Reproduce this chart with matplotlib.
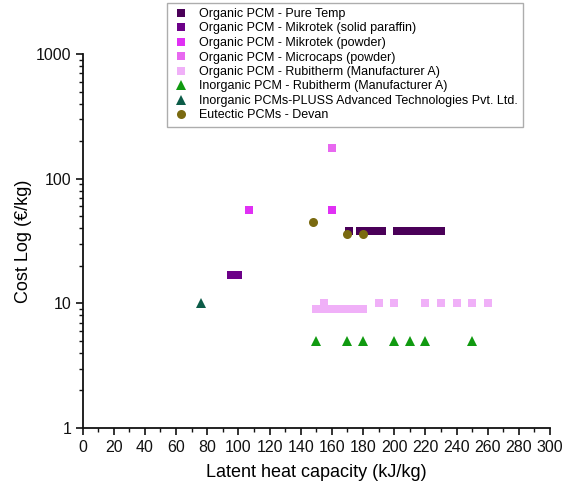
import matplotlib
matplotlib.use("Agg")
import matplotlib.pyplot as plt
from matplotlib.ticker import LogLocator, FixedLocator, NullFormatter, FuncFormatter, MultipleLocator

plt.rcParams['font.family'] = ['Liberation Sans', 'DejaVu Sans']

# Data
puretemp_x = [171, 178, 182, 186, 190, 192, 202, 205, 210, 215, 220, 225, 230]
puretemp_y = [38] * len(puretemp_x)
mik_solid_x = [95, 100]
mik_solid_y = [17, 17]
mik_powder_x = [107, 160]
mik_powder_y = [56, 56]
microcaps_x = [160]
microcaps_y = [175]
rubi_org_x = [150, 155, 160, 165, 170, 175, 180, 155, 190, 200, 220, 230, 240, 250, 260]
rubi_org_y = [9, 9, 9, 9, 9, 9, 9, 10, 10, 10, 10, 10, 10, 10, 10]
rubi_inorg_x = [150, 170, 180, 200, 210, 220, 250]
rubi_inorg_y = [5] * len(rubi_inorg_x)
pluss_x = [76]
pluss_y = [10]
devan_x = [148, 170, 180]
devan_y = [45, 36, 36]

xticks = list(range(0, 301, 20))

fig = plt.figure(figsize=(5.63, 4.88), dpi=100)
ax = fig.add_axes([82.5/563, 1-428/488, (550-82.5)/563, (428-54)/488])

ms_sq = 6
series = [
    (puretemp_x, puretemp_y, 's', '#4a0058', ms_sq, 'Organic PCM - Pure Temp'),
    (mik_solid_x, mik_solid_y, 's', '#6c0088', ms_sq, 'Organic PCM - Mikrotek (solid paraffin)'),
    (mik_powder_x, mik_powder_y, 's', '#e030f4', ms_sq, 'Organic PCM - Mikrotek (powder)'),
    (microcaps_x, microcaps_y, 's', '#e868f0', ms_sq, 'Organic PCM - Microcaps (powder)'),
    (rubi_org_x, rubi_org_y, 's', '#f0b0f8', ms_sq, 'Organic PCM - Rubitherm (Manufacturer A)'),
    (rubi_inorg_x, rubi_inorg_y, '^', '#109a10', 7.5, 'Inorganic PCM - Rubitherm (Manufacturer A)'),
    (pluss_x, pluss_y, '^', '#0c5c48', 7.5, 'Inorganic PCMs-PLUSS Advanced Technologies Pvt. Ltd.'),
    (devan_x, devan_y, 'o', '#7a6a10', 6.5, 'Eutectic PCMs - Devan'),
]
handles = []
for xs, ys, m, c, ms, lab in series:
    h, = ax.plot(xs, ys, linestyle='none', marker=m, color=c, markersize=ms,
                 markeredgewidth=0, label=lab)
    handles.append(h)

ax.set_yscale('log')
ax.set_ylim(1, 1000)
ax.set_xlim(0, 300)

for s in ['top', 'right']:
    ax.spines[s].set_visible(False)
for s in ['left', 'bottom']:
    ax.spines[s].set_linewidth(1.3)
    ax.spines[s].set_color('#111111')

ax.xaxis.set_major_locator(FixedLocator(xticks))
ax.xaxis.set_minor_locator(MultipleLocator(10))
ax.yaxis.set_major_locator(LogLocator(base=10, numticks=10))
ax.yaxis.set_minor_locator(LogLocator(base=10, subs=range(2, 10), numticks=20))
ax.yaxis.set_minor_formatter(NullFormatter())
ax.yaxis.set_major_formatter(FuncFormatter(lambda v, p: f"{int(round(v))}"))

ax.tick_params(axis='both', which='major', direction='out', length=5, width=1.2,
               labelsize=11.5, pad=3, colors='#111111')
ax.tick_params(axis='both', which='minor', direction='out', length=3, width=1.0, colors='#111111')
ax.tick_params(axis='x', which='major', pad=4)

ax.set_xlabel('Latent heat capacity (kJ/kg)', fontsize=13, labelpad=6)
ax.set_ylabel('Cost Log (€/kg)', fontsize=13, labelpad=3)

leg = fig.legend(handles=handles, loc='upper left',
                 bbox_to_anchor=(167/563, 1-3/488), bbox_transform=fig.transFigure,
                 fontsize=9.0, frameon=True, fancybox=False, edgecolor='#999999',
                 handlelength=1.4, handletextpad=0.76, labelspacing=0.2,
                 borderpad=0.4, borderaxespad=0, markerscale=1.0)
leg.get_frame().set_linewidth(1.0)

fig.savefig('out.png', dpi=100)
